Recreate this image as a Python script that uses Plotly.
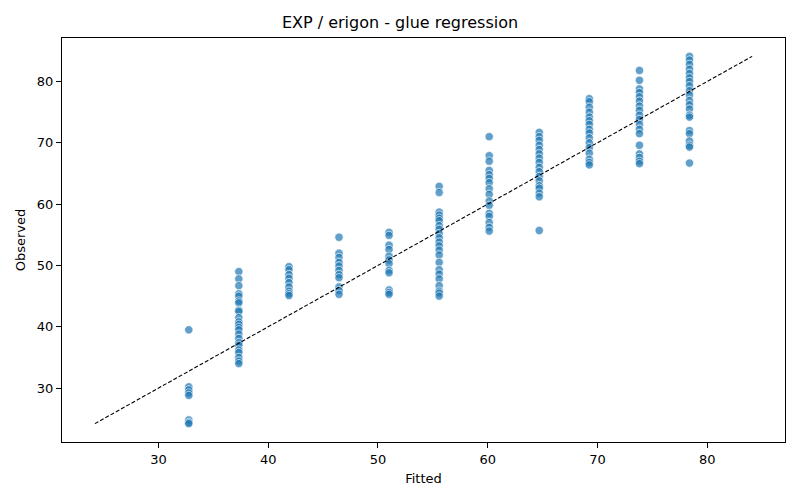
import plotly.graph_objects as go

fitted_levels = [32.76, 37.32, 41.89, 46.45, 51.01, 55.58, 60.14, 64.70, 69.26, 73.83, 78.39]

obs_0 = [39.5, 30.2, 29.7, 29.2, 28.8, 24.8, 24.4, 24.2]
obs_1 = [49.0, 47.8, 46.7, 45.4, 45.0, 44.2, 43.9, 42.7, 42.5, 41.5, 40.8, 40.4, 39.9, 39.5,
         38.8, 38.1, 37.4, 37.0, 36.2, 35.8, 35.0, 34.4, 34.0]
obs_2 = [49.8, 49.3, 48.5, 47.9, 47.2, 46.5, 45.8, 45.4, 45.1]
obs_3 = [54.6, 52.0, 51.3, 50.5, 49.9, 49.2, 48.5, 48.0, 46.5, 45.9, 45.3]
obs_4 = [55.4, 54.9, 53.3, 52.6, 51.5, 50.9, 50.3, 49.2, 48.8, 46.0, 45.6, 45.3]
obs_5 = [62.9, 61.9, 58.7, 58.2, 57.7, 57.3, 56.5, 55.9, 55.2, 54.5, 53.8, 53.2, 52.5, 51.7,
         50.5, 49.3, 48.6, 47.8, 46.7, 45.8, 45.5, 45.0]
obs_6 = [71.0, 67.9, 67.0, 65.5, 64.8, 64.2, 63.5, 62.5, 61.6, 60.5, 59.8, 58.5, 58.0, 57.0,
         56.2, 55.6]
obs_7 = [71.7, 71.0, 70.4, 69.6, 68.9, 68.2, 67.5, 66.8, 66.0, 65.3, 64.5, 63.8, 63.0, 62.6,
         61.8, 61.2, 55.7]
obs_8 = [77.2, 76.7, 75.8, 75.0, 74.2, 73.6, 73.0, 72.2, 71.6, 70.8, 70.0, 69.2, 68.3, 67.3,
         66.8, 66.4]
obs_9 = [81.8, 80.2, 78.8, 78.2, 77.5, 76.8, 76.0, 75.3, 74.5, 73.8, 73.0, 72.2, 71.5, 69.6,
         68.2, 67.6, 67.0, 66.6]
obs_10 = [84.1, 83.5, 82.8, 82.0, 81.3, 80.6, 80.0, 79.3, 78.5, 77.8, 76.9, 76.2, 75.5, 74.5,
          74.2, 72.0, 71.5, 70.3, 69.6, 69.3, 66.7]

observed_groups = [obs_0, obs_1, obs_2, obs_3, obs_4, obs_5, obs_6, obs_7, obs_8, obs_9, obs_10]

xs, ys = [], []
for f, grp in zip(fitted_levels, observed_groups):
    for v in grp:
        xs.append(f)
        ys.append(v)

lo = min(min(xs), min(ys))
hi = max(max(xs), max(ys))
pad = 0.05 * (hi - lo)
rng = [lo - pad, hi + pad]

fig = go.Figure()
fig.add_trace(go.Scatter(
    x=xs, y=ys, mode="markers",
    marker=dict(size=8.3, color="rgba(31,119,180,0.7)",
                line=dict(color="rgba(255,255,255,0.8)", width=0.8)),
    showlegend=False,
))
fig.add_trace(go.Scatter(
    x=[lo, hi], y=[lo, hi], mode="lines",
    line=dict(color="black", width=1.1, dash="4px,2px"),
    showlegend=False,
))

axis_common = dict(
    showline=True, mirror=True, linecolor="black", linewidth=1,
    ticks="outside", ticklen=5, tickcolor="black", tickwidth=1,
    showgrid=False, zeroline=False, range=rng, dtick=10, tick0=0,
    tickfont=dict(size=13, color="black"), automargin=False,
)

fig.update_layout(
    width=800, height=500,
    margin=dict(l=62, r=15, t=38, b=58),
    paper_bgcolor="white", plot_bgcolor="white",
    font=dict(family="DejaVu Sans", color="black"),
    title=dict(text="EXP / erigon - glue regression", x=0.5, xanchor="center",
               y=0.955, yanchor="middle", font=dict(size=16, color="black")),
    xaxis=dict(title=dict(text="Fitted", font=dict(size=13), standoff=8), **axis_common),
    yaxis=dict(title=dict(text="Observed", font=dict(size=13), standoff=8), **axis_common),
)

fig.write_html("out.html", config={"displayModeBar": False},
               post_script="document.body.style.margin='0';")
